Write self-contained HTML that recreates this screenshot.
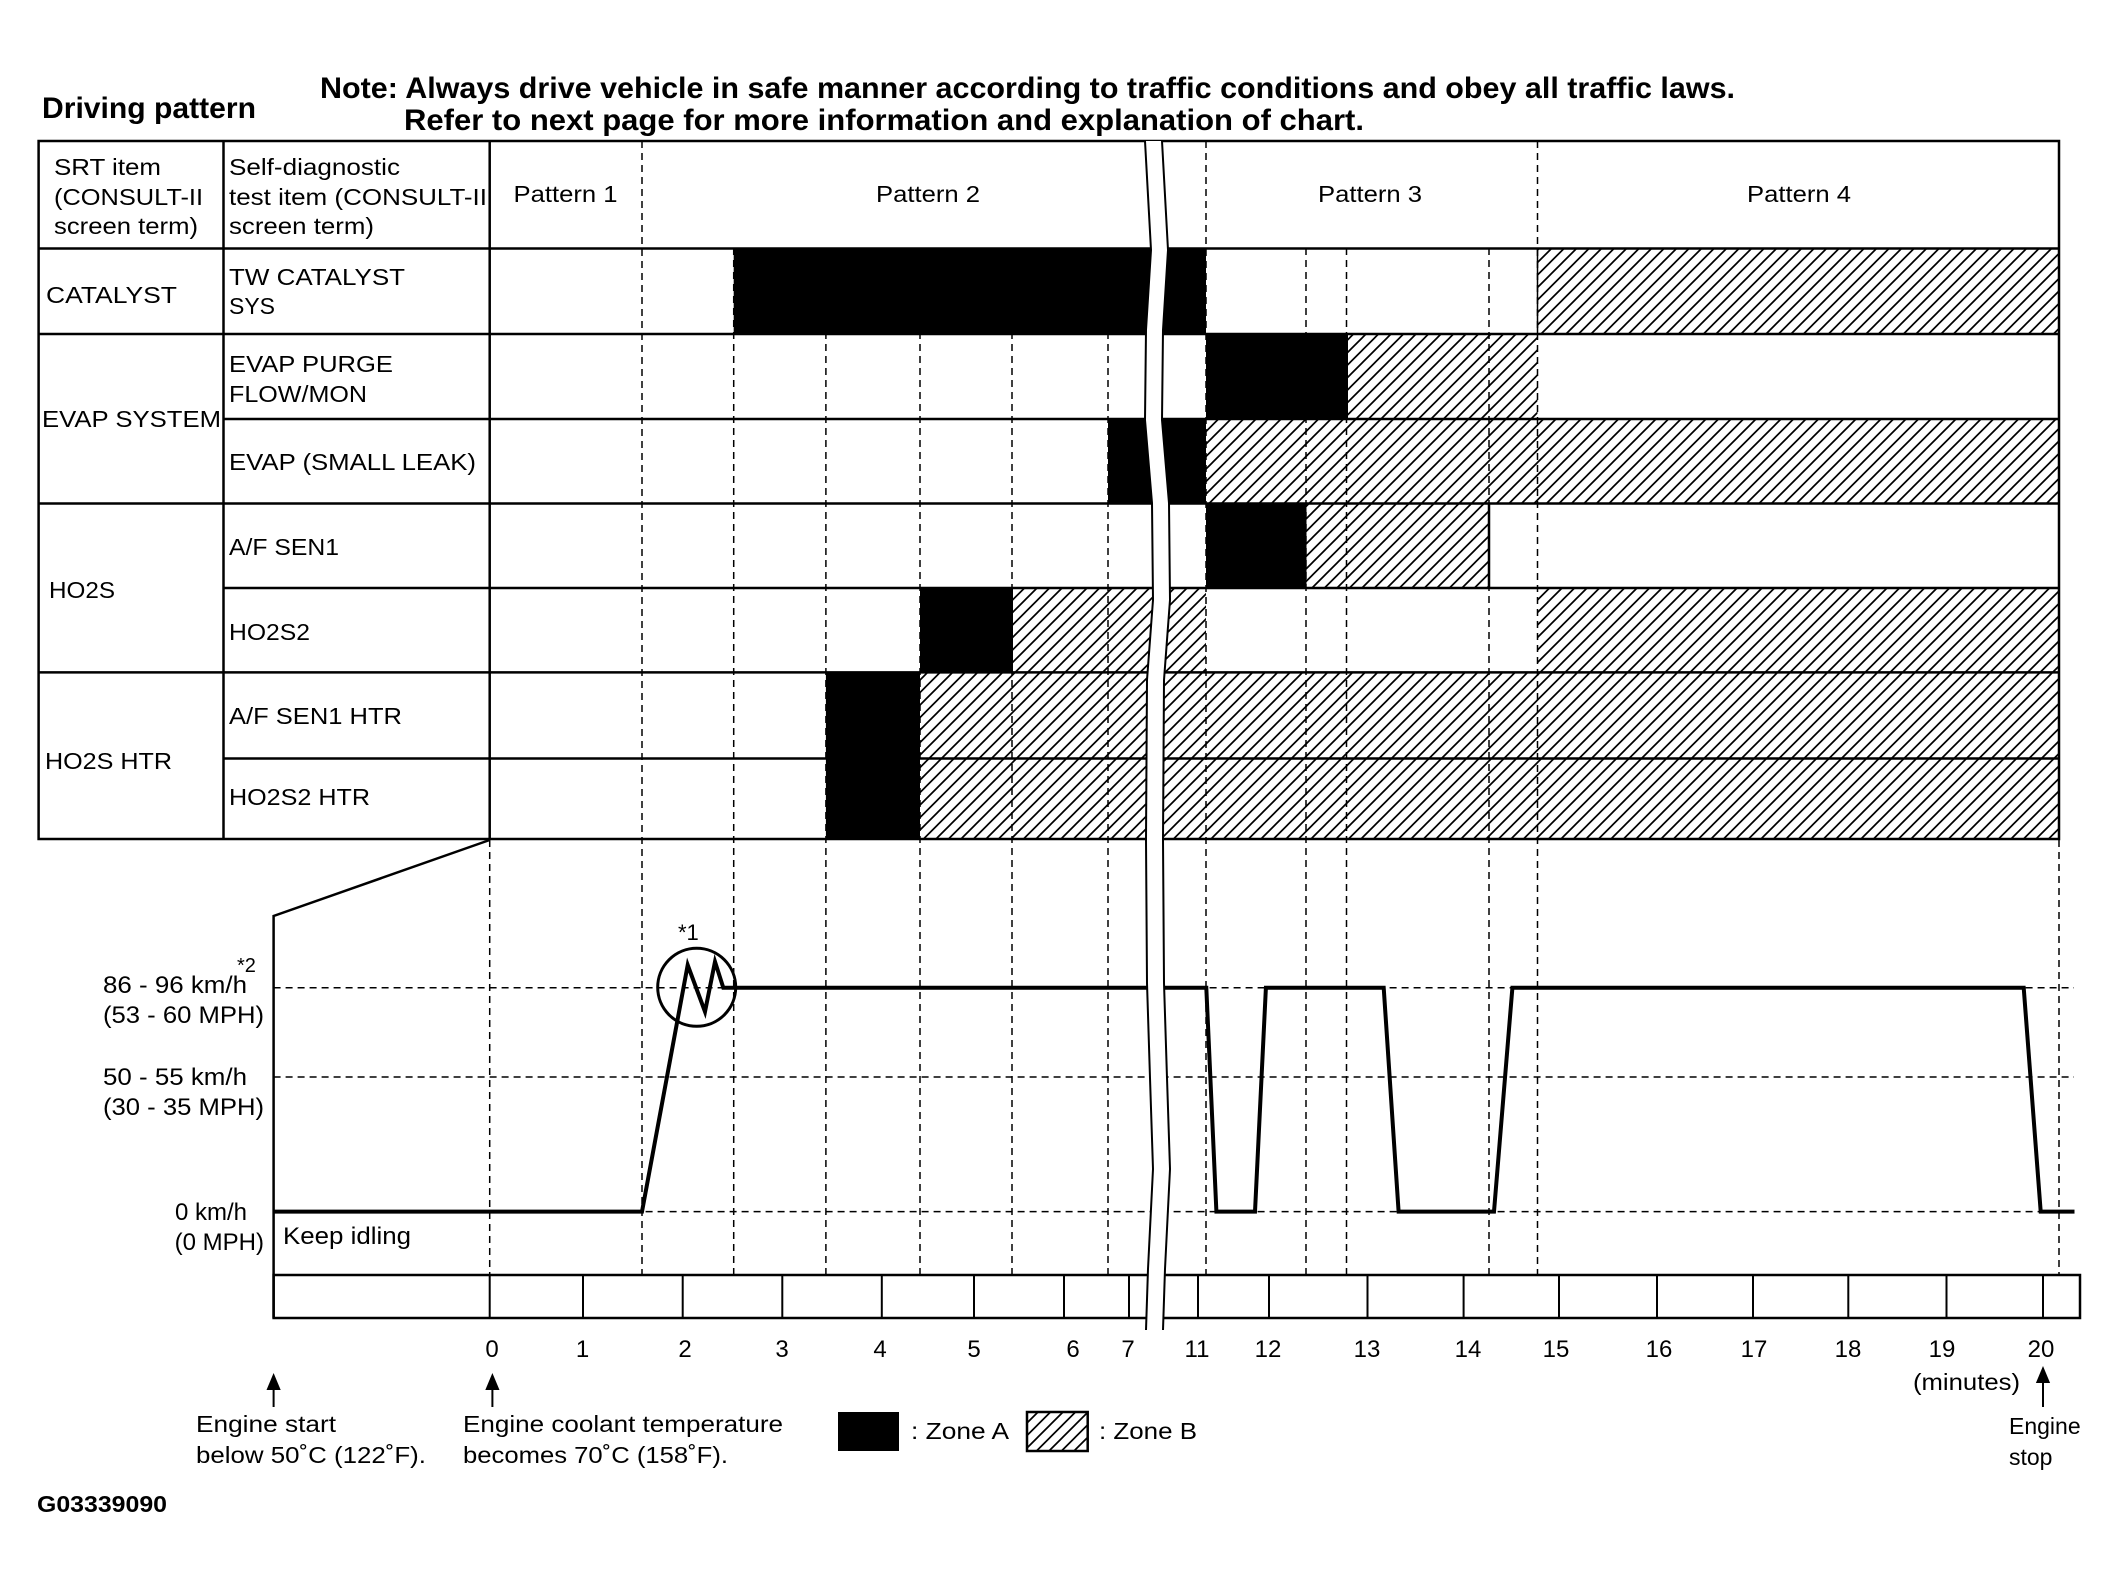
<!DOCTYPE html>
<html><head><meta charset="utf-8"><style>
html,body{margin:0;padding:0;background:#fff}
svg{display:block}
text{font-family:"Liberation Sans",sans-serif;fill:#000}
</style></head><body>
<svg width="2124" height="1587" viewBox="0 0 2124 1587" xmlns="http://www.w3.org/2000/svg">
<defs>
<pattern id="h" patternUnits="userSpaceOnUse" width="12.5" height="12.5">
<path d="M-1,13.5 L13.5,-1 M-3,3 L3,-3 M9.5,15.5 L15.5,9.5" stroke="#000" stroke-width="1.7"/>
</pattern>
</defs>
<rect width="2124" height="1587" fill="#fff"/>

<text x="42" y="118" font-size="30" font-weight="bold" textLength="214" lengthAdjust="spacingAndGlyphs">Driving pattern</text>
<text x="320" y="98" font-size="30" font-weight="bold" textLength="1415" lengthAdjust="spacingAndGlyphs">Note: Always drive vehicle in safe manner according to traffic conditions and obey all traffic laws.</text>
<text x="404" y="130" font-size="30" font-weight="bold" textLength="960" lengthAdjust="spacingAndGlyphs">Refer to next page for more information and explanation of chart.</text>

<g stroke="#000" stroke-width="1.5" stroke-dasharray="7,5" fill="none">
<line x1="642" y1="141" x2="642" y2="1275"/>
<line x1="1206" y1="141" x2="1206" y2="1275"/>
<line x1="1537.5" y1="141" x2="1537.5" y2="1275"/>
<line x1="733.7" y1="248" x2="733.7" y2="1275"/>
<line x1="825.9" y1="248" x2="825.9" y2="1275"/>
<line x1="920" y1="248" x2="920" y2="1275"/>
<line x1="1012" y1="248" x2="1012" y2="1275"/>
<line x1="1108" y1="248" x2="1108" y2="1275"/>
<line x1="1306" y1="248" x2="1306" y2="1275"/>
<line x1="1346.5" y1="248" x2="1346.5" y2="1275"/>
<line x1="1489" y1="248" x2="1489" y2="1275"/>
<line x1="489.7" y1="840" x2="489.7" y2="1275"/>
<line x1="2059" y1="840" x2="2059" y2="1275"/>
<line x1="273.6" y1="987.7" x2="2074" y2="987.7"/>
<line x1="273.6" y1="1077" x2="2074" y2="1077"/>
<line x1="273.6" y1="1211.6" x2="2074" y2="1211.6"/>
</g>

<g>
<rect x="733.7" y="248" width="472.3" height="86" fill="#000"/>
<rect x="1537.5" y="248" width="521.5" height="86" fill="url(#h)"/>
<rect x="1206" y="334" width="142" height="85" fill="#000"/>
<rect x="1348" y="334" width="189.5" height="85" fill="url(#h)"/>
<rect x="1108" y="419" width="98" height="84.5" fill="#000"/>
<rect x="1206" y="419" width="853" height="84.5" fill="url(#h)"/>
<rect x="1206" y="503.5" width="100.5" height="84.5" fill="#000"/>
<rect x="1306.5" y="503.5" width="182.5" height="84.5" fill="url(#h)"/>
<rect x="920" y="588" width="93" height="84.4" fill="#000"/>
<rect x="1013" y="588" width="193" height="84.4" fill="url(#h)"/>
<rect x="1537.5" y="588" width="521.5" height="84.4" fill="url(#h)"/>
<rect x="825.9" y="672.4" width="94.1" height="166.6" fill="#000"/>
<rect x="920" y="672.4" width="1139" height="166.6" fill="url(#h)"/>
</g>

<g stroke="#000" stroke-width="2.5" fill="none">
<rect x="38.6" y="141" width="2020.4" height="698"/>
<line x1="223.5" y1="141" x2="223.5" y2="839"/>
<line x1="489.7" y1="141" x2="489.7" y2="839"/>
<line x1="38.6" y1="248.5" x2="2059" y2="248.5"/>
<line x1="38.6" y1="334" x2="2059" y2="334"/>
<line x1="223.5" y1="419" x2="2059" y2="419"/>
<line x1="38.6" y1="503.5" x2="2059" y2="503.5"/>
<line x1="223.5" y1="588" x2="2059" y2="588"/>
<line x1="38.6" y1="672.4" x2="2059" y2="672.4"/>
<line x1="223.5" y1="758.5" x2="2059" y2="758.5"/>
<line x1="1489" y1="503.5" x2="1489" y2="588"/>
<line x1="1537.5" y1="248" x2="1537.5" y2="334" stroke-width="1.5"/>
</g>

<g font-size="23">
<text x="54" y="175" textLength="107" lengthAdjust="spacingAndGlyphs">SRT item</text>
<text x="54" y="205" textLength="149" lengthAdjust="spacingAndGlyphs">(CONSULT-II</text>
<text x="54" y="234" textLength="144" lengthAdjust="spacingAndGlyphs">screen term)</text>
<text x="229" y="175" textLength="171" lengthAdjust="spacingAndGlyphs">Self-diagnostic</text>
<text x="229" y="205" textLength="258" lengthAdjust="spacingAndGlyphs">test item (CONSULT-II</text>
<text x="229" y="234" textLength="145" lengthAdjust="spacingAndGlyphs">screen term)</text>
<text x="513.5" y="202" textLength="104" lengthAdjust="spacingAndGlyphs">Pattern 1</text>
<text x="876" y="202" textLength="104" lengthAdjust="spacingAndGlyphs">Pattern 2</text>
<text x="1318" y="202" textLength="104" lengthAdjust="spacingAndGlyphs">Pattern 3</text>
<text x="1747" y="202" textLength="104" lengthAdjust="spacingAndGlyphs">Pattern 4</text>
<text x="46" y="303" textLength="131" lengthAdjust="spacingAndGlyphs">CATALYST</text>
<text x="229" y="285" textLength="176" lengthAdjust="spacingAndGlyphs">TW CATALYST</text>
<text x="229" y="314">SYS</text>
<text x="229" y="372" textLength="164" lengthAdjust="spacingAndGlyphs">EVAP PURGE</text>
<text x="229" y="402" textLength="138" lengthAdjust="spacingAndGlyphs">FLOW/MON</text>
<text x="42" y="427" textLength="179" lengthAdjust="spacingAndGlyphs">EVAP SYSTEM</text>
<text x="229" y="470" textLength="247" lengthAdjust="spacingAndGlyphs">EVAP (SMALL LEAK)</text>
<text x="229" y="555" textLength="110" lengthAdjust="spacingAndGlyphs">A/F SEN1</text>
<text x="49" y="598" textLength="66" lengthAdjust="spacingAndGlyphs">HO2S</text>
<text x="229" y="640" textLength="81" lengthAdjust="spacingAndGlyphs">HO2S2</text>
<text x="229" y="724" textLength="173" lengthAdjust="spacingAndGlyphs">A/F SEN1 HTR</text>
<text x="45" y="769" textLength="127" lengthAdjust="spacingAndGlyphs">HO2S HTR</text>
<text x="229" y="805" textLength="141" lengthAdjust="spacingAndGlyphs">HO2S2 HTR</text>
</g>

<g stroke="#000" stroke-width="2.5" fill="none">
<polyline points="489.7,840 273.6,916 273.6,1318"/>
<rect x="273.6" y="1275" width="1806.4" height="43"/>
<g stroke-width="2">
<line x1="489.7" y1="1275" x2="489.7" y2="1318"/>
<line x1="583" y1="1275" x2="583" y2="1318"/>
<line x1="682.7" y1="1275" x2="682.7" y2="1318"/>
<line x1="782.3" y1="1275" x2="782.3" y2="1318"/>
<line x1="881.8" y1="1275" x2="881.8" y2="1318"/>
<line x1="974" y1="1275" x2="974" y2="1318"/>
<line x1="1064" y1="1275" x2="1064" y2="1318"/>
<line x1="1129" y1="1275" x2="1129" y2="1318"/>
<line x1="1198" y1="1275" x2="1198" y2="1318"/>
<line x1="1269" y1="1275" x2="1269" y2="1318"/>
<line x1="1367.5" y1="1275" x2="1367.5" y2="1318"/>
<line x1="1463.6" y1="1275" x2="1463.6" y2="1318"/>
<line x1="1559" y1="1275" x2="1559" y2="1318"/>
<line x1="1657" y1="1275" x2="1657" y2="1318"/>
<line x1="1753" y1="1275" x2="1753" y2="1318"/>
<line x1="1848.3" y1="1275" x2="1848.3" y2="1318"/>
<line x1="1946.5" y1="1275" x2="1946.5" y2="1318"/>
<line x1="2043" y1="1275" x2="2043" y2="1318"/>
</g>
</g>

<g stroke="#000" stroke-width="4" fill="none" stroke-linejoin="miter">
<polyline points="273.6,1211.6 642,1211.6 687.7,965 705,1011.7 715,961.7 723.3,987.7 1206.3,987.7 1216.4,1211.6 1255,1211.6 1265.9,987.7 1383.7,987.7 1398.6,1211.6 1494,1211.6 1512.4,987.7 2023.7,987.7 2040.7,1211.6 2074.5,1211.6"/>
<circle cx="696.7" cy="987.3" r="39" stroke-width="3"/>
</g>

<path d="M1145,141 L1151,250 L1146,330 L1145,420 L1152,503 L1153,600 L1147,680 L1146,840 L1147,983 L1150,1078 L1153,1169 L1148,1269 L1146,1330 L1163,1330 L1165,1269 L1170,1169 L1167,1078 L1164,983 L1163,840 L1164,680 L1170,600 L1169,503 L1162,420 L1163,330 L1168,250 L1162,141 Z" fill="#fff" stroke="none"/>
<g stroke="#000" stroke-width="2" fill="none">
<polyline points="1145,141 1151,250 1146,330 1145,420 1152,503 1153,600 1147,680 1146,840 1147,983 1150,1078 1153,1169 1148,1269 1146,1330"/>
<polyline points="1162,141 1168,250 1163,330 1162,420 1169,503 1170,600 1164,680 1163,840 1164,983 1167,1078 1170,1169 1165,1269 1163,1330"/>
</g>

<g font-size="24">
<text x="237" y="972" font-size="20">*2</text>
<text x="247" y="993" text-anchor="end" textLength="144" lengthAdjust="spacingAndGlyphs">86 - 96 km/h</text>
<text x="264" y="1023" text-anchor="end" textLength="161" lengthAdjust="spacingAndGlyphs">(53 - 60 MPH)</text>
<text x="247" y="1085" text-anchor="end" textLength="144" lengthAdjust="spacingAndGlyphs">50 - 55 km/h</text>
<text x="264" y="1115" text-anchor="end" textLength="161" lengthAdjust="spacingAndGlyphs">(30 - 35 MPH)</text>
<text x="247" y="1220" text-anchor="end">0 km/h</text>
<text x="264" y="1250" text-anchor="end">(0 MPH)</text>
<text x="283" y="1244" textLength="128" lengthAdjust="spacingAndGlyphs">Keep idling</text>
<text x="678" y="940" font-size="22">*1</text>
</g>
<g font-size="24" text-anchor="middle">
<text x="492" y="1357">0</text>
<text x="582.5" y="1357">1</text>
<text x="685" y="1357">2</text>
<text x="782" y="1357">3</text>
<text x="880" y="1357">4</text>
<text x="974" y="1357">5</text>
<text x="1073" y="1357">6</text>
<text x="1128" y="1357">7</text>
<text x="1197" y="1357">11</text>
<text x="1268" y="1357">12</text>
<text x="1367" y="1357">13</text>
<text x="1468" y="1357">14</text>
<text x="1556" y="1357">15</text>
<text x="1659" y="1357">16</text>
<text x="1754" y="1357">17</text>
<text x="1848" y="1357">18</text>
<text x="1942" y="1357">19</text>
<text x="2041" y="1357">20</text>
</g>

<g stroke="#000" stroke-width="2">
<line x1="273.6" y1="1385" x2="273.6" y2="1407"/>
<line x1="492.4" y1="1385" x2="492.4" y2="1407"/>
<line x1="2043" y1="1378" x2="2043" y2="1407"/>
</g>
<g fill="#000">
<polygon points="273.6,1373 266.5,1390 280.7,1390"/>
<polygon points="492.4,1373 485.3,1390 499.5,1390"/>
<polygon points="2043,1366 2035.9,1383 2050.1,1383"/>
</g>

<g font-size="23">
<text x="196" y="1432" textLength="140" lengthAdjust="spacingAndGlyphs">Engine start</text>
<text x="196" y="1463" textLength="230" lengthAdjust="spacingAndGlyphs">below 50˚C (122˚F).</text>
<text x="463" y="1432" textLength="320" lengthAdjust="spacingAndGlyphs">Engine coolant temperature</text>
<text x="463" y="1463" textLength="265" lengthAdjust="spacingAndGlyphs">becomes 70˚C (158˚F).</text>
<text x="911" y="1439" textLength="98" lengthAdjust="spacingAndGlyphs">: Zone A</text>
<text x="1099" y="1439" textLength="98" lengthAdjust="spacingAndGlyphs">: Zone B</text>
<text x="1913" y="1390" textLength="107" lengthAdjust="spacingAndGlyphs">(minutes)</text>
<text x="2009" y="1434">Engine</text>
<text x="2009" y="1465">stop</text>
</g>
<rect x="838" y="1412" width="61" height="39" fill="#000"/>
<rect x="1027" y="1412" width="60.7" height="39" fill="url(#h)" stroke="#000" stroke-width="2.5"/>
<text x="37" y="1512" font-size="23" font-weight="bold" textLength="130" lengthAdjust="spacingAndGlyphs">G03339090</text>
</svg>
</body></html>
